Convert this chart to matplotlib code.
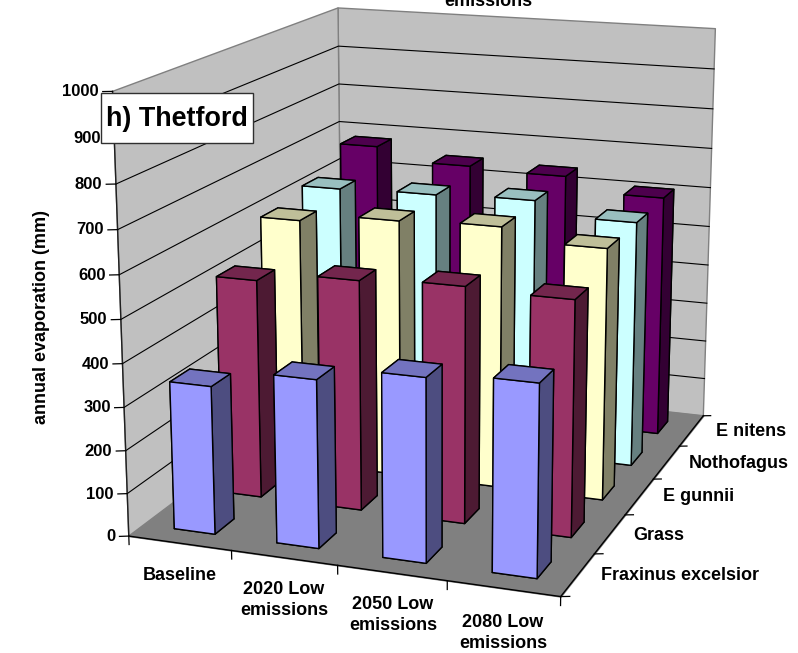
import numpy as np
import matplotlib
matplotlib.use('Agg')
import matplotlib.pyplot as plt
from matplotlib.colors import to_rgb
from matplotlib.patches import Rectangle
from mpl_toolkits.mplot3d import proj3d
from mpl_toolkits.mplot3d.art3d import Poly3DCollection

plt.rcParams['font.family'] = ['Liberation Sans', 'DejaVu Sans']
plt.rcParams['font.weight'] = 'bold'

W, H = 798, 653

periods = ['Baseline', '2020 Low\nemissions', '2050 Low\nemissions', '2080 Low\nemissions']
species = ['Fraxinus excelsior', 'Grass', 'E gunnii', 'Nothofagus', 'E nitens']
fraxinus = [344, 387, 419, 434]
grass = [520, 543, 553, 547]
gunnii = [602, 622, 629, 600]
nothofagus = [624, 629, 635, 602]
nitens = [680, 648, 641, 606]
series = [fraxinus, grass, gunnii, nothofagus, nitens]
colors = ['#9999FF', '#993366', '#FFFFCC', '#CCFFFF', '#660066']
z_ticks = list(range(0, 1001, 100))

nx = len(periods)
ny = len(species)
zmax = 1000

fig = plt.figure(figsize=(W / 100, H / 100), dpi=100)
ax = fig.add_axes([33.79 / W, -19.66 / H, 785.1 / W, 785.1 / H], projection='3d',
                  computed_zorder=False)
ax.set_xlim(0, nx, view_margin=0)
ax.set_ylim(0, ny, view_margin=0)
ax.set_zlim(0, zmax, view_margin=0)
ax.view_init(14.949, -70.09)
ax.set_proj_type('persp', focal_length=0.5477)
ax.set_box_aspect((1, 1.2525, 1.0002))
ax.set_xticks([])
ax.set_yticks([])
ax.set_zticks([])
ax.set_axis_off()

# walls and floor
left_wall = [(0, 0, 0), (0, ny, 0), (0, ny, zmax), (0, 0, zmax)]
back_wall = [(0, ny, 0), (nx, ny, 0), (nx, ny, zmax), (0, ny, zmax)]
floor = [(0, 0, 0), (nx, 0, 0), (nx, ny, 0), (0, ny, 0)]
ax.add_collection3d(Poly3DCollection([left_wall, back_wall], facecolor='#C0C0C0',
                                     edgecolor='#808080', linewidth=1, zorder=1))
ax.add_collection3d(Poly3DCollection([floor], facecolor='#808080',
                                     edgecolor='#808080', linewidth=1, zorder=3))

# gridlines run along both walls
for z in z_ticks[1:-1]:
    ax.plot([0, 0, nx], [0, ny, ny], [z, z, z], color='#000000', lw=0.8, zorder=2)

ax.plot([0, nx, nx], [0, 0, ny], [0, 0, 0], color='#000000', lw=1, zorder=4)
ax.plot([0, 0], [0, 0], [0, zmax], color='#202020', lw=1, zorder=4)

# tick marks and value labels
proj = ax.get_proj()
for z in z_ticks:
    ax.plot([0, -0.074], [0, -0.035], [z, z], color='#000000', lw=0.9, zorder=4)
    lx, ly, _ = proj3d.proj_transform(-0.105, -0.05, z, proj)
    ax.text2D(lx, ly, str(z), ha='right', va='center', fontsize=12, zorder=6)
for i in range(nx + 1):
    ax.plot([i, i], [0, 0], [0, -20], color='#000000', lw=0.9, zorder=4)
for j in range(ny + 1):
    ax.plot([nx, nx + 0.07], [j, j + 0.029], [0, 0], color='#000000', lw=0.9, zorder=4)

# bars, back row first so the nearer ones paint over
bar_w = 0.4
for j in reversed(range(ny)):
    base = np.array(to_rgb(colors[j]))
    side = [base, base * 0.75, base, base, base, base * 0.5]
    for i, v in enumerate(series[j]):
        ax.bar3d(i + 0.3, j + 0.3, 0, bar_w, bar_w, v, color=side, shade=False,
                 edgecolor='#000000', linewidth=1, zorder=10 + (ny - j) * 10 + i)

# category labels
period_xy = [(180, 575), (284, 600), (393, 615), (503, 633)]
for name, (px, py) in zip(periods, period_xy):
    fig.text(px / W, 1 - py / H, name, ha='center', va='center', fontsize=13,
             linespacing=1.25)

species_xy = [(601, 576), (633, 535), (662.7, 496.7), (689, 463), (715.7, 431.7)]
for name, (px, py) in zip(species, species_xy):
    fig.text(px / W, 1 - py / H, name, ha='left', va='center', fontsize=13)

# second line of a heading that runs off the top edge
fig.text(488.5 / W, 1 - 6 / H, 'emissions', ha='center', va='baseline', fontsize=13)
fig.text(42 / W, 1 - 317 / H, 'annual evaporation (mm)', rotation=90, ha='center',
         va='center', fontsize=13)

# site label in its white box
fig.add_artist(Rectangle((100.7 / W, 1 - 143.3 / H), 152 / W, 50 / H, facecolor='white',
                         edgecolor='#303030', linewidth=1, transform=fig.transFigure,
                         zorder=5))
fig.text(176.7 / W, 1 - 119.5 / H, 'h) Thetford', ha='center', va='center', fontsize=19.4,
         zorder=6)

fig.savefig('out.png', dpi=100, facecolor='white')
